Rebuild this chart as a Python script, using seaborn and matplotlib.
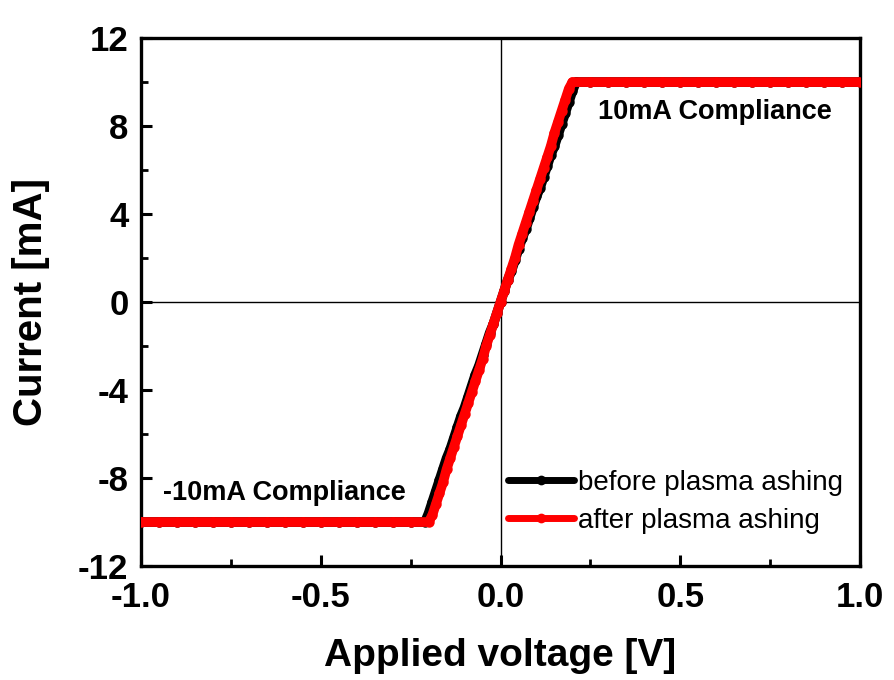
import numpy as np
import pandas as pd
import matplotlib
matplotlib.use("Agg")
import matplotlib.pyplot as plt
import seaborn as sns
from matplotlib.ticker import MultipleLocator

sns.set_style("white")
plt.rcParams['font.family'] = ['Liberation Sans', 'DejaVu Sans']
plt.rcParams['text.color'] = 'black'
plt.rcParams['axes.labelcolor'] = 'black'
plt.rcParams['xtick.color'] = 'black'
plt.rcParams['ytick.color'] = 'black'

# ---- data ----
flat_neg_v = [-1.00, -0.95, -0.90, -0.85, -0.80, -0.75, -0.70, -0.65, -0.60, -0.55,
              -0.50, -0.45, -0.40, -0.35, -0.30, -0.25]
flat_pos_v = [0.25, 0.30, 0.35, 0.40, 0.45, 0.50, 0.55, 0.60, 0.65, 0.70,
              0.75, 0.80, 0.85, 0.90, 0.95, 1.00]

after_slope_v = [-0.20, -0.19, -0.18, -0.17, -0.16, -0.15, -0.14, -0.13, -0.12, -0.11,
                 -0.10, -0.09, -0.08, -0.07, -0.06, -0.05, -0.04, -0.03, -0.02, -0.01,
                 0.00, 0.01, 0.02, 0.03, 0.04, 0.05, 0.06, 0.07, 0.08, 0.09,
                 0.10, 0.11, 0.12, 0.13, 0.14, 0.15, 0.16, 0.17, 0.18, 0.19, 0.20]
after_slope_i = [-10.0, -9.7, -9.2, -8.7, -8.2, -7.6, -7.1, -6.6, -6.1, -5.6,
                 -5.1, -4.6, -4.1, -3.6, -3.1, -2.6, -2.0, -1.5, -1.0, -0.5,
                 0.0, 0.5, 1.0, 1.5, 2.0, 2.6, 3.1, 3.6, 4.1, 4.6,
                 5.1, 5.6, 6.1, 6.6, 7.1, 7.7, 8.2, 8.7, 9.2, 9.7, 10.0]

before_slope_v = [-0.21, -0.20, -0.19, -0.18, -0.17, -0.16, -0.15, -0.14, -0.13, -0.12, -0.11,
                  -0.10, -0.09, -0.08, -0.07, -0.06, -0.05, -0.04, -0.03, -0.02, -0.01,
                  0.00, 0.01, 0.02, 0.03, 0.04, 0.05, 0.06, 0.07, 0.08, 0.09,
                  0.10, 0.11, 0.12, 0.13, 0.14, 0.15, 0.16, 0.17, 0.18, 0.19, 0.20, 0.21]
before_slope_i = [-10.0, -9.6, -9.1, -8.6, -8.1, -7.6, -7.1, -6.7, -6.2, -5.7, -5.2,
                  -4.8, -4.3, -3.8, -3.3, -2.9, -2.4, -1.9, -1.4, -1.0, -0.5,
                  0.0, 0.5, 1.0, 1.4, 1.9, 2.4, 2.9, 3.3, 3.8, 4.3,
                  4.8, 5.2, 5.7, 6.2, 6.7, 7.1, 7.6, 8.1, 8.6, 9.1, 9.6, 10.0]

compliance_neg = -10.0
compliance_pos = 10.0

labels = ["before plasma ashing", "after plasma ashing"]
colors = ["#000000", "#ff0000"]

xtick_vals = [-1.0, -0.5, 0.0, 0.5, 1.0]
xtick_labels = ["-1.0", "-0.5", "0.0", "0.5", "1.0"]
ytick_vals = [-12, -8, -4, 0, 4, 8, 12]
ytick_labels = ["-12", "-8", "-4", "0", "4", "8", "12"]


def build(slope_v, slope_i, label):
    v = flat_neg_v + slope_v + flat_pos_v
    i = [compliance_neg] * len(flat_neg_v) + slope_i + [compliance_pos] * len(flat_pos_v)
    return pd.DataFrame({"V": v, "I": i, "series": label})


df = pd.concat([build(before_slope_v, before_slope_i, labels[0]),
                build(after_slope_v, after_slope_i, labels[1])], ignore_index=True)

fig = plt.figure(figsize=(8.95, 6.8), dpi=100)
ax = fig.add_axes([0.1575, 0.1676, 0.8035, 0.7764])

ax.axhline(0, color="black", lw=1.0, zorder=1)
ax.axvline(0, color="black", lw=1.0, zorder=1)

sns.lineplot(data=df, x="V", y="I", hue="series", palette=colors, hue_order=labels,
             sort=False, estimator=None, marker="o", markersize=7.5, markeredgewidth=0,
             linewidth=7, ax=ax, zorder=3)

ax.set_xlim(-1.0, 1.0)
ax.set_ylim(-12, 12)
ax.xaxis.set_minor_locator(MultipleLocator(0.25))
ax.yaxis.set_minor_locator(MultipleLocator(2))
ax.set_xticks(xtick_vals)
ax.set_xticklabels(xtick_labels)
ax.set_yticks(ytick_vals)
ax.set_yticklabels(ytick_labels)

ax.tick_params(which="major", direction="in", length=8, width=2.2,
               labelsize=25, bottom=True, left=True, top=False, right=False)
ax.tick_params(axis="y", which="major", pad=9)
ax.tick_params(axis="x", which="major", pad=11)
ax.tick_params(which="minor", direction="in", length=5, width=2.0,
               bottom=True, left=True, top=False, right=False)
for lab in ax.get_xticklabels() + ax.get_yticklabels():
    lab.set_fontweight("bold")

for sp in ax.spines.values():
    sp.set_linewidth(2.4)
    sp.set_color("black")
    sp.set_visible(True)

ax.set_xlabel("Applied voltage [V]", fontsize=28, fontweight="bold", labelpad=17)
ax.set_ylabel("Current [mA]", fontsize=29, fontweight="bold", labelpad=20)

ax.text(0.27, 8.65, "10mA Compliance", fontsize=19.5, fontweight="bold", ha="left", va="center")
ax.text(-0.94, -8.7, "-10mA Compliance", fontsize=19.5, fontweight="bold", ha="left", va="center")

leg = ax.legend(loc="lower right", bbox_to_anchor=(1.0, 0.03), frameon=False,
                fontsize=20, handlelength=2.4, handletextpad=0.15, labelspacing=0.42,
                borderaxespad=0.2)
for h in leg.get_lines():
    h.set_linewidth(5)
    h.set_markersize(7)

fig.savefig("out.png", dpi=100)
